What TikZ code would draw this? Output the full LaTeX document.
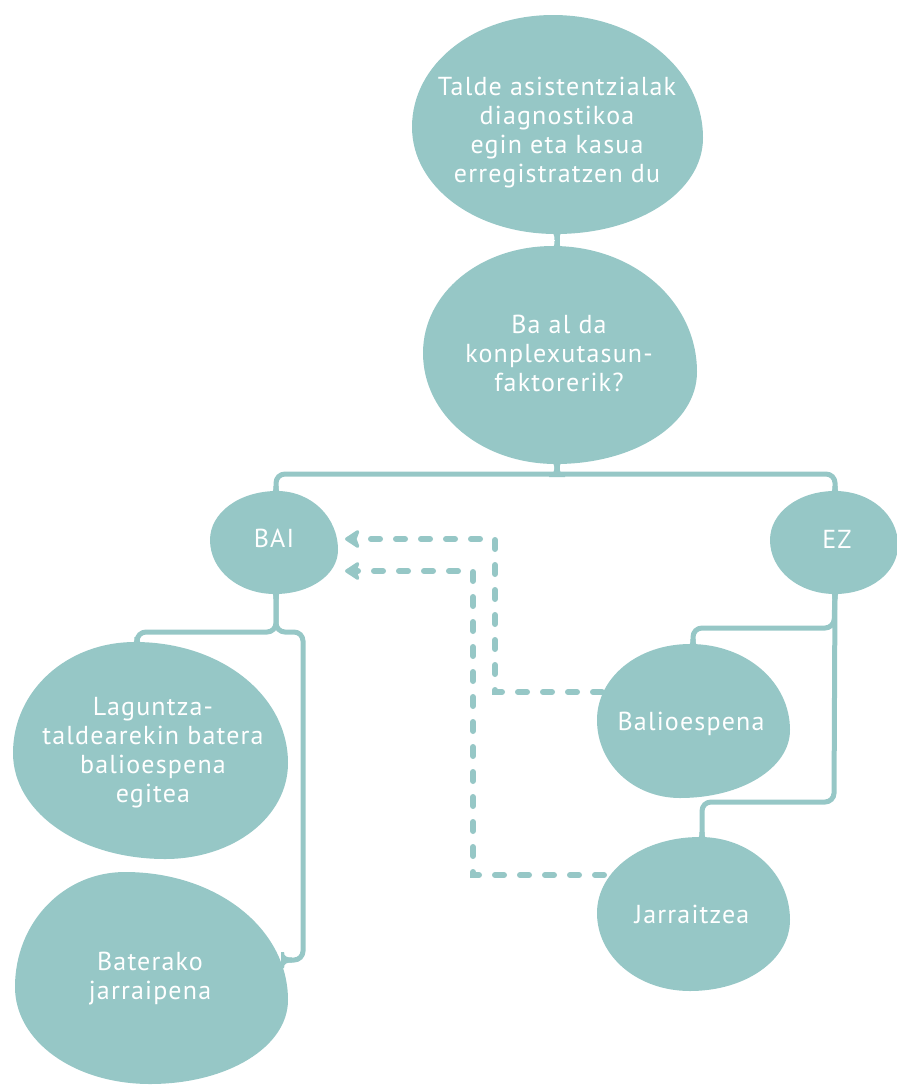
\documentclass[tikz,border=0pt]{standalone}
\usepackage{fontspec}
\setmainfont[LetterSpace=4.5]{PT Sans}
\usetikzlibrary{arrows.meta}
\definecolor{sea}{RGB}{150,199,198}

\tikzset{
  blob/.style={fill=sea, draw=none},
  txt/.style={text=white, font=\fontsize{26}{29}\selectfont, align=center, inner sep=0pt},
  link/.style={draw=sea, line width=5pt, rounded corners=9pt},
  dashlink/.style={draw=sea, line width=6pt, line cap=round, dash pattern=on 9pt off 16pt,
    -{Stealth[length=17pt, width=22pt, inset=4pt, round]}},
  neck/.pic={\fill[sea] (-8,3) -- (-8,0) .. controls (-3.5,0) and (-2.5,-2.5) .. (-2.5,-8)
     -- (2.5,-8) .. controls (2.5,-2.5) and (3.5,0) .. (8,0) -- (8,3) -- cycle;}
}

% \eggblob{xt}{yt}{xr}{yr}{xb}{yb}{xl}{yl}{k}: a rounded blob through its top, right,
% bottom and left extreme points; k sets how full the four quarters are
\newcommand\eggblob[9]{%
  \pgfmathsetmacro\bxa{#1+#9*(#3-#1)}%
  \pgfmathsetmacro\bxb{#4+#9*(#2-#4)}%
  \pgfmathsetmacro\bxc{#4+#9*(#6-#4)}%
  \pgfmathsetmacro\bxd{#5+#9*(#3-#5)}%
  \pgfmathsetmacro\bxe{#5+#9*(#7-#5)}%
  \pgfmathsetmacro\bxf{#8+#9*(#6-#8)}%
  \pgfmathsetmacro\bxg{#8+#9*(#2-#8)}%
  \pgfmathsetmacro\bxh{#1+#9*(#7-#1)}%
  \fill[blob] (#1,#2) .. controls (\bxa,#2) and (#3,\bxb) .. (#3,#4)
    .. controls (#3,\bxc) and (\bxd,#6) .. (#5,#6)
    .. controls (\bxe,#6) and (#7,\bxf) .. (#7,#8)
    .. controls (#7,\bxg) and (\bxh,#2) .. cycle;}

\begin{document}
\begin{tikzpicture}[x=1pt, y=-1pt]
\useasboundingbox (0,0) rectangle (897,1085);

% blobs
\eggblob{553}{15}{703}{138}{556}{234}{412}{127}{0.56}
\eggblob{553}{246}{697}{372}{556}{464}{423}{353}{0.56}
\eggblob{277}{491}{338}{550}{275}{594}{210}{540}{0.56}
\eggblob{835}{491}{898}{545}{835}{594}{770}{540}{0.56}
\eggblob{135}{642}{288}{763}{165}{859}{13}{753}{0.56}
\eggblob{125}{872}{288}{1000}{150}{1084}{15}{987}{0.56}
\eggblob{690}{644}{790}{730}{680}{798}{597}{720}{0.56}
\eggblob{700}{837}{790}{920}{690}{991}{597}{913}{0.56}

% texts
\node[txt] (t1) at (557,133) {Talde asistentzialak\\diagnostikoa\\egin eta kasua\\erregistratzen du};
\node[txt] (t2) at (559,353) {Ba al da\\konplexutasun-\\faktorerik?};
\node[txt, anchor=base] (bai) at (274,547) {BAI};
\node[txt, anchor=base] (ez) at (837,548) {EZ};
\node[txt] (lag) at (153,753) {Laguntza-\\taldearekin batera\\balioespena\\egitea};
\node[txt] (bat) at (150,979) {Baterako\\jarraipena};
\node[txt, anchor=base] (bal) at (691,730) {Balioespena};
\node[txt, anchor=base] (jar) at (692,923) {Jarraitzea};

% junction points on the blobs and rails
\coordinate (t1b) at (557,232);
\coordinate (t2t) at (557,249);
\coordinate (t2b) at (557,462);
\coordinate (hub) at (557,474);
\coordinate (bait) at (276,494);
\coordinate (ezt) at (835,494);
\coordinate (baib) at (276,591);
\coordinate (ezb) at (835,591);
\coordinate (baij) at (276,632);
\coordinate (bair) at (303,632);
\coordinate (ezj1) at (834,628);
\coordinate (ezj2) at (834,802);
\coordinate (lagt) at (137,645);
\coordinate (batr) at (284,960);
\coordinate (balt) at (693,647);
\coordinate (jart) at (702,840);
\coordinate (ball) at (602,692);
\coordinate (jarl) at (604,875);
\coordinate (bend1) at (495,692);
\coordinate (bend2) at (473,875);
\coordinate (tip1) at (345,539);
\coordinate (tip2) at (345,571);

% solid connectors
\draw[link] (t1b) -- (t2t);
\draw[link] (t2b) -- (hub);
\draw[link] (bait) |- (hub) -| (ezt);
\draw[link] (baib) -- (baij) -| (lagt);
\draw[link] (baib) -- (baij) -- (bair) |- (batr);
\draw[link] (ezb) -- (ezj1) -| (balt);
\draw[link] (ezb) -- (ezj2) -| (jart);

% fillets where connectors meet the blobs
\pic[yscale=-1] at (t1b) {neck};
\pic at (t2t) {neck};
\pic[yscale=-1] at (t2b) {neck};
\pic at (hub) {neck};
\pic at (bait) {neck};
\pic at (ezt) {neck};
\pic[yscale=-1] at (baib) {neck};
\pic[yscale=-1] at (ezb) {neck};
\pic at (lagt) {neck};
\pic at (balt) {neck};
\pic at (jart) {neck};
\pic[rotate=-90] at (batr) {neck};

% dashed return arrows
\draw[dashlink] (ball) -- (bend1) |- (tip1);
\draw[dashlink] (jarl) -- (bend2) |- (tip2);
\end{tikzpicture}
\end{document}
